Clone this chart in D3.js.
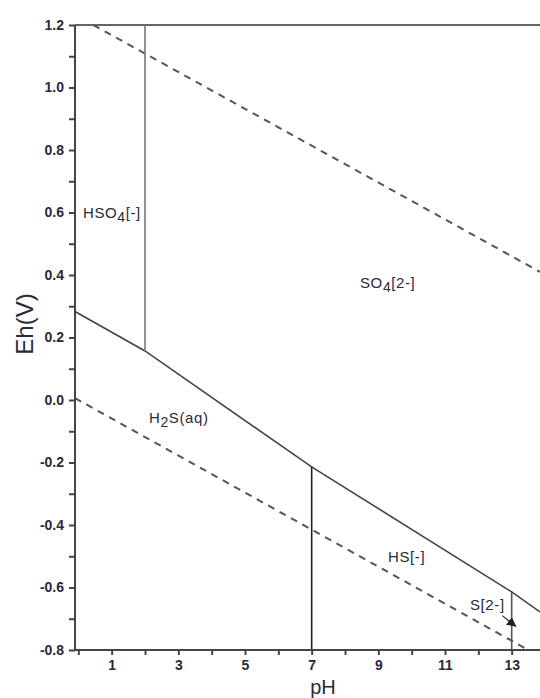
<!DOCTYPE html>
<html><head><meta charset="utf-8">
<script src="https://cdn.jsdelivr.net/npm/d3@7"></script>
<style>body{margin:0;background:#fff}svg{display:block}text{font-family:"Liberation Sans",Arial,sans-serif}</style>
</head><body>
<svg id="c" width="540" height="698"></svg>
<script>
// ---- data ----
const xTicks = [0,1,2,3,4,5,6,7,8,9,10,11,12,13];
const xTickLabels = ["","1","","3","","5","","7","","9","","11","","13"];
const yTicks = [-0.8,-0.7,-0.6,-0.5,-0.4,-0.3,-0.2,-0.1,0.0,0.1,0.2,0.3,0.4,0.5,0.6,0.7,0.8,0.9,1.0,1.1,1.2];
const yTickLabels = ["-0.8","","-0.6","","-0.4","","-0.2","","0.0","","0.2","","0.4","","0.6","","0.8","","1.0","","1.2"];
const waterUpperPH = [0.45, 13.85];
const waterUpperEh = [1.20, 0.41];
const waterLowerPH = [-0.1, 13.5];
const waterLowerEh = [0.006, -0.80];
const boundaryPH = [-0.1, 2.0, 7.0, 13.0, 13.85];
const boundaryEh = [0.283, 0.157, -0.214, -0.614, -0.678];
const verticalPH = [2.0, 7.0, 13.0];
const verticalBottomEh = [0.157, -0.80, -0.80];
const verticalTopEh = [1.20, -0.214, -0.614];
const labelText = [["HSO","4","[-]"],["SO","4","[2-]"],["H","2","S(aq)"],["HS[-]"],["S[2-]"]];
const labelPH = [0.14, 8.45, 2.12, 9.29, 11.75];
const labelEh = [0.582, 0.358, -0.074, -0.518, -0.672];
const arrowPH = [12.72, 13.12];
const arrowEh = [-0.690, -0.724];

// ---- drawing ----
const svg = d3.select("#c");
const x = d3.scaleLinear().domain([-0.1, 13.85]).range([75, 540]);
const y = d3.scaleLinear().domain([-0.8, 1.2]).range([650, 25]);
const txt = "#2a2a3a";

svg.append("defs").append("marker").attr("id","ah").attr("viewBox","0 0 10 10")
  .attr("refX",9).attr("refY",5).attr("markerWidth",8).attr("markerHeight",8).attr("orient","auto")
  .append("path").attr("d","M0,0 L10,5 L0,10 z").attr("fill","#222");

const line = d3.line().x(d=>x(d[0])).y(d=>y(d[1]));

// top border
svg.append("path").attr("d", line([[-0.1,1.2],[13.85,1.2]])).attr("stroke","#666").attr("stroke-width",2).attr("fill","none");

// water lines
svg.append("path").attr("d", line(waterUpperPH.map((p,i)=>[p,waterUpperEh[i]])))
  .attr("stroke","#555").attr("stroke-width",2).attr("stroke-dasharray","7,6").attr("fill","none");
svg.append("path").attr("d", line(waterLowerPH.map((p,i)=>[p,waterLowerEh[i]])))
  .attr("stroke","#555").attr("stroke-width",2).attr("stroke-dasharray","7,6").attr("fill","none");

// boundary
svg.append("path").attr("d", line(boundaryPH.map((p,i)=>[p,boundaryEh[i]])))
  .attr("stroke","#444").attr("stroke-width",1.6).attr("fill","none");

// verticals
const vcol = ["#777","#222","#555"];
verticalPH.forEach((p,i)=>{
  svg.append("path").attr("d", line([[p,verticalBottomEh[i]],[p,verticalTopEh[i]]]))
    .attr("stroke",vcol[i]).attr("stroke-width",1.6).attr("fill","none");
});

// axes
const yAxis = d3.axisLeft(y).tickValues(yTicks).tickSize(6).tickPadding(5)
  .tickFormat((d,i)=>yTickLabels[i]);
const gy = svg.append("g").attr("transform","translate(75,0)").call(yAxis);
const xAxis = d3.axisBottom(x).tickValues(xTicks).tickSize(5).tickPadding(5)
  .tickFormat((d,i)=>xTickLabels[i]);
const gx = svg.append("g").attr("transform","translate(0,650)").call(xAxis);
[gx,gy].forEach(g=>{
  g.select(".domain").attr("stroke","#444").attr("stroke-width",2);
  g.selectAll(".tick line").attr("stroke","#444").attr("stroke-width",2);
  g.selectAll(".tick text").attr("fill",txt).style("font-size","14px").style("font-weight","bold");
});
gx.select(".domain").attr("d","M75,0H540");
gy.select(".domain").attr("d","M0,25V650");

// axis titles
svg.append("text").attr("x",323).attr("y",694).attr("text-anchor","middle")
  .attr("fill",txt).style("font-size","20px").text("pH");
svg.append("text").attr("transform","translate(33,324) rotate(-90)").attr("text-anchor","middle")
  .attr("fill",txt).style("font-size","24px").text("Eh(V)");

// region labels
labelText.forEach((parts,i)=>{
  const t = svg.append("text").attr("x",x(labelPH[i])).attr("y",y(labelEh[i]))
    .attr("fill",txt).style("font-size","15px").style("letter-spacing","0.6px");
  if (parts.length===3){
    t.append("tspan").text(parts[0]);
    t.append("tspan").attr("dy",4).style("font-size","14px").text(parts[1]);
    t.append("tspan").attr("dy",-4).text(parts[2]);
  } else t.text(parts[0]);
});

// arrow
svg.append("path").attr("d", line(arrowPH.map((p,i)=>[p,arrowEh[i]])))
  .attr("stroke","#222").attr("stroke-width",1.2).attr("marker-end","url(#ah)");
</script>
</body></html>
